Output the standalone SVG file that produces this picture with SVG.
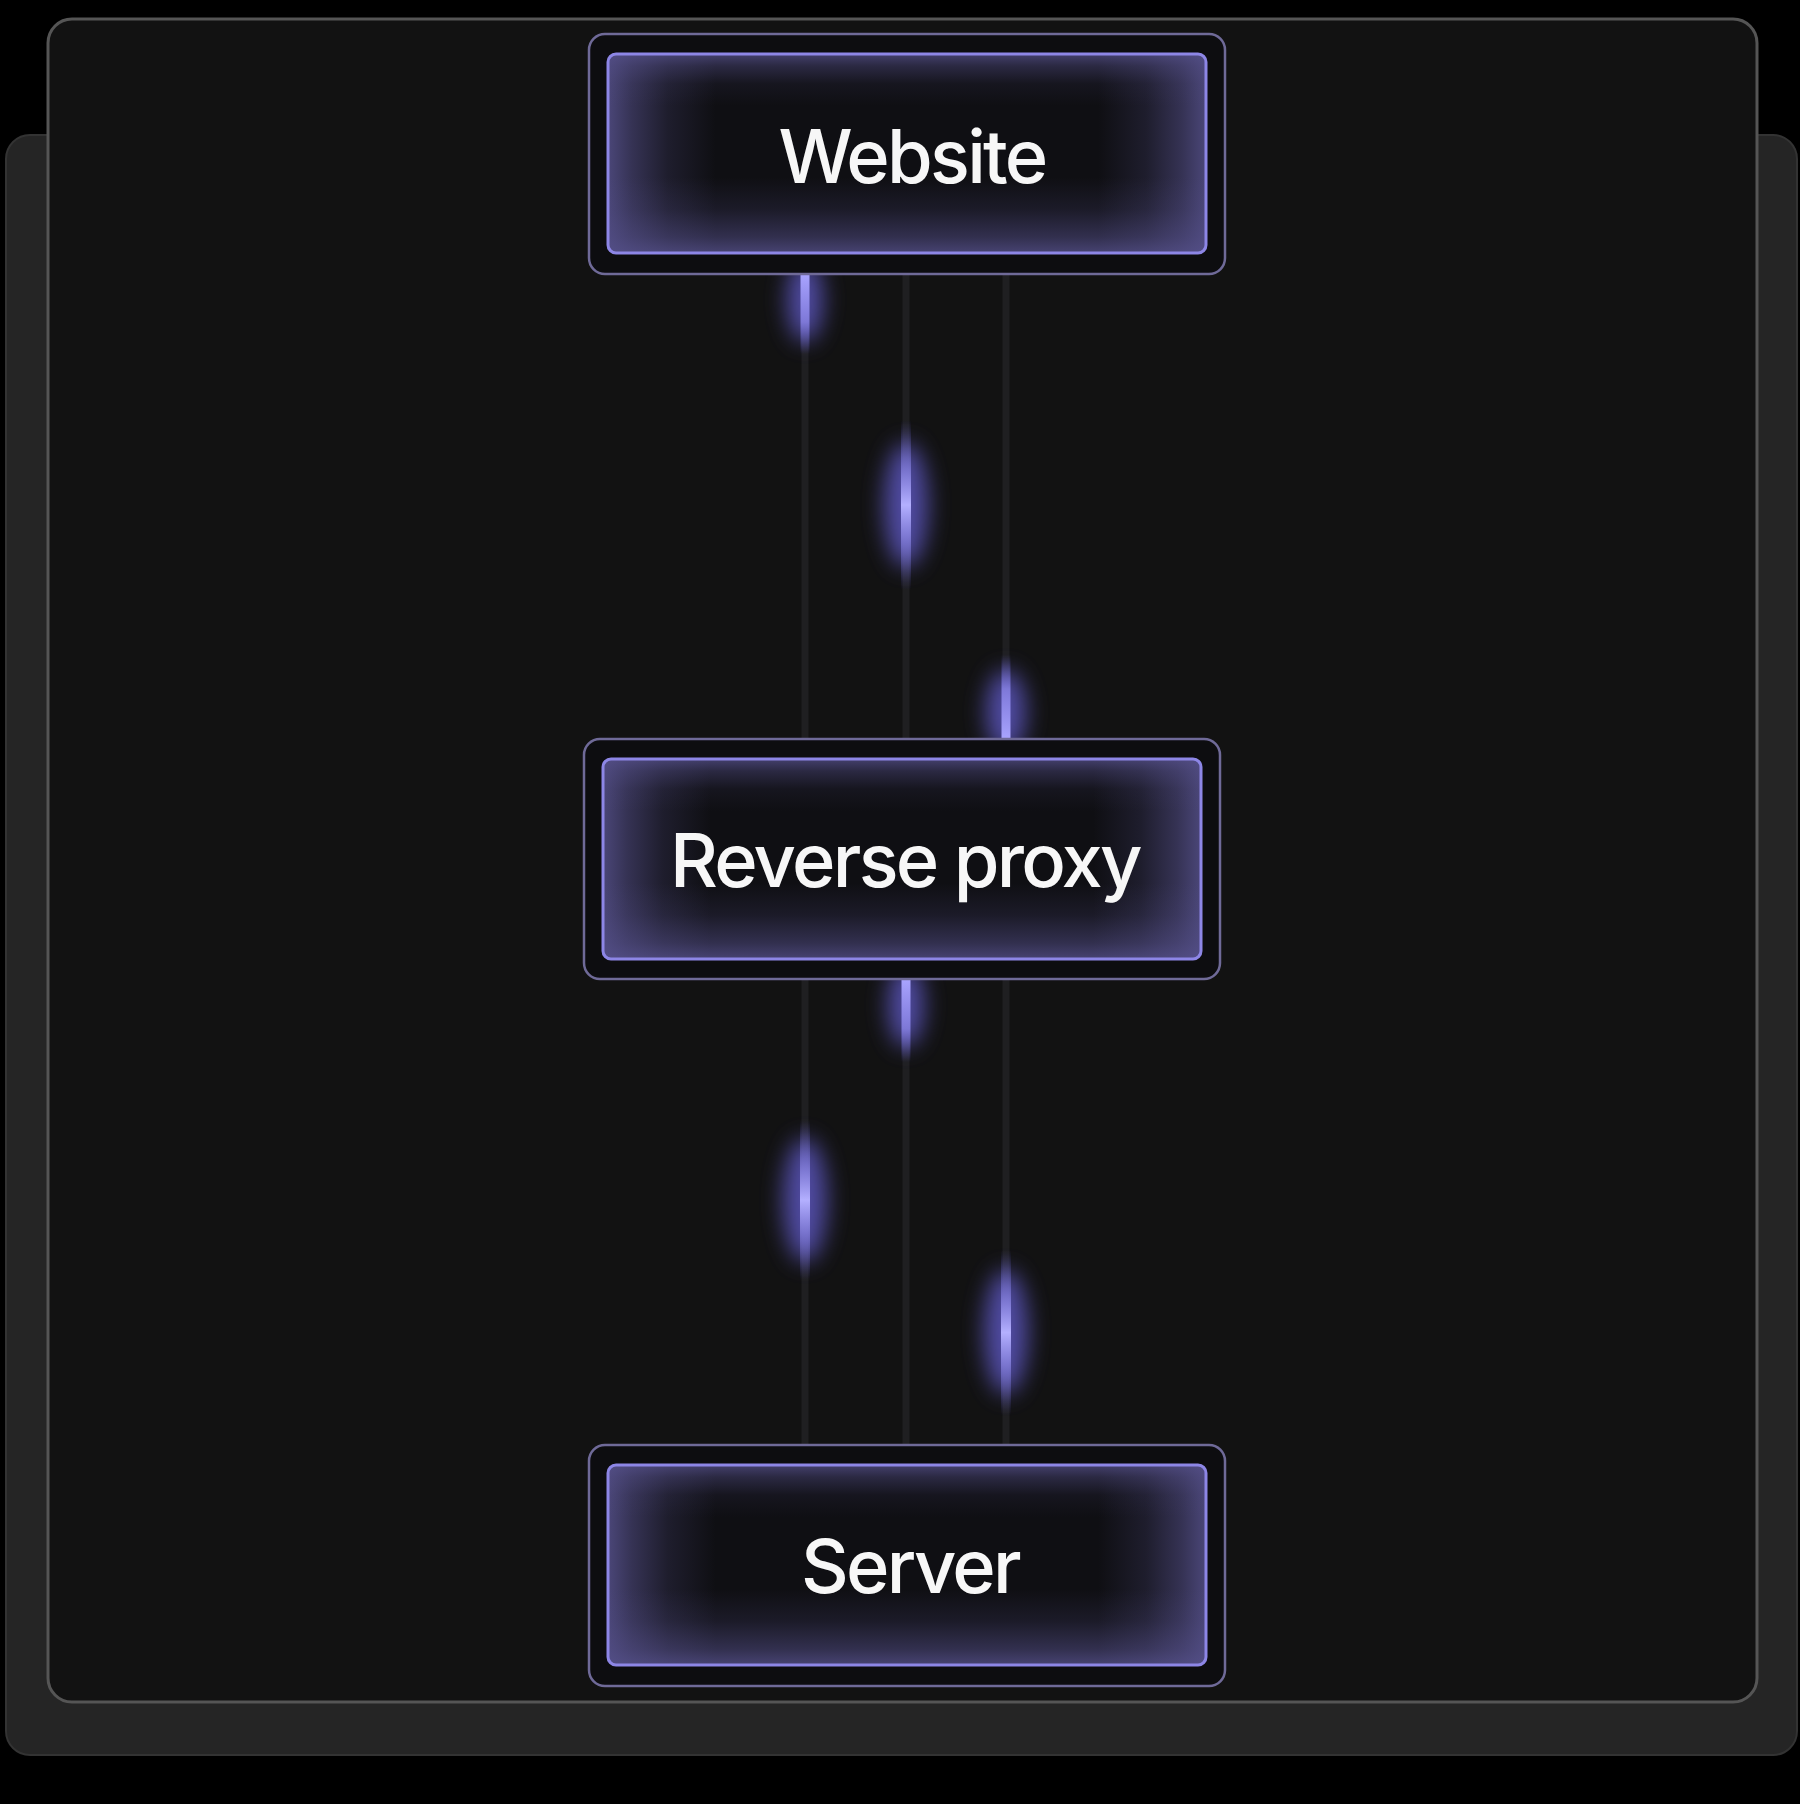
<svg xmlns="http://www.w3.org/2000/svg" width="1800" height="1804" viewBox="0 0 1800 1804">
  <style>
    .line { fill: #1f1f21; }
    .outer { fill: #0d0d10; stroke: #6f6a98; stroke-width: 2.5; }
    .innerFill { fill: #0f0f13; }
    .glowH { fill: url(#gh); }
    .glowV { fill: url(#gv); }
    .innerStroke { fill: none; stroke: #8d86e6; stroke-width: 3; }
    .label { font-family: Inter, "Liberation Sans", sans-serif; font-weight: 550; font-size: 74px; fill: #f7f7f7; text-anchor: middle; letter-spacing: -2.7px; }
    .glow { fill: #6b64e0; opacity: 0.7; filter: url(#blur); }
  </style>
  <defs>
    <linearGradient id="gh" x1="0" y1="0" x2="1" y2="0">
      <stop offset="0" stop-color="#55508a" stop-opacity="0.85"/>
      <stop offset="0.04" stop-color="#55508a" stop-opacity="0.55"/>
      <stop offset="0.1" stop-color="#55508a" stop-opacity="0.22"/>
      <stop offset="0.18" stop-color="#55508a" stop-opacity="0"/>
      <stop offset="0.82" stop-color="#55508a" stop-opacity="0"/>
      <stop offset="0.9" stop-color="#55508a" stop-opacity="0.22"/>
      <stop offset="0.96" stop-color="#55508a" stop-opacity="0.55"/>
      <stop offset="1" stop-color="#55508a" stop-opacity="0.85"/>
    </linearGradient>
    <linearGradient id="gv" x1="0" y1="0" x2="0" y2="1">
      <stop offset="0" stop-color="#55508a" stop-opacity="0.75"/>
      <stop offset="0.06" stop-color="#55508a" stop-opacity="0.4"/>
      <stop offset="0.15" stop-color="#55508a" stop-opacity="0.1"/>
      <stop offset="0.26" stop-color="#55508a" stop-opacity="0"/>
      <stop offset="0.62" stop-color="#55508a" stop-opacity="0"/>
      <stop offset="0.78" stop-color="#55508a" stop-opacity="0.18"/>
      <stop offset="0.92" stop-color="#55508a" stop-opacity="0.5"/>
      <stop offset="1" stop-color="#55508a" stop-opacity="0.8"/>
    </linearGradient>
    <linearGradient id="pDown" x1="0" y1="0" x2="0" y2="1">
      <stop offset="0" stop-color="#aaa5ff" stop-opacity="1"/>
      <stop offset="0.6" stop-color="#8b85ea" stop-opacity="0.8"/>
      <stop offset="1" stop-color="#6b64e0" stop-opacity="0"/>
    </linearGradient>
    <linearGradient id="pUp" x1="0" y1="1" x2="0" y2="0">
      <stop offset="0" stop-color="#aaa5ff" stop-opacity="1"/>
      <stop offset="0.6" stop-color="#8b85ea" stop-opacity="0.8"/>
      <stop offset="1" stop-color="#6b64e0" stop-opacity="0"/>
    </linearGradient>
    <linearGradient id="pMid" x1="0" y1="0" x2="0" y2="1">
      <stop offset="0" stop-color="#6b64e0" stop-opacity="0"/>
      <stop offset="0.5" stop-color="#b4b0ff" stop-opacity="1"/>
      <stop offset="1" stop-color="#6b64e0" stop-opacity="0"/>
    </linearGradient>
    <filter id="blur" x="-200%" y="-100%" width="500%" height="300%">
      <feGaussianBlur stdDeviation="11"/>
    </filter>
  </defs>

  <rect x="0" y="0" width="1800" height="1804" fill="#000"/>
  <rect x="6" y="135" width="1791" height="1620" rx="24" fill="#252525" stroke="#333" stroke-width="2"/>
  <rect x="48" y="19" width="1709" height="1683" rx="24" fill="#121212" stroke="#555" stroke-width="3"/>

  <g id="connectors">
    <rect class="line" x="801.5" y="274" width="7" height="466"/>
    <rect class="line" x="902.5" y="274" width="7" height="466"/>
    <rect class="line" x="1002.5" y="274" width="7" height="466"/>
    <rect class="line" x="801.5" y="979" width="7" height="466"/>
    <rect class="line" x="902.5" y="979" width="7" height="466"/>
    <rect class="line" x="1002.5" y="979" width="7" height="466"/>

    <ellipse class="glow" cx="805" cy="300" rx="18" ry="42"/>
    <rect x="800.5" y="274" width="9" height="80" fill="url(#pDown)"/>

    <ellipse class="glow" cx="906" cy="505" rx="22" ry="62"/>
    <rect x="901" y="420" width="10" height="170" fill="url(#pMid)"/>

    <ellipse class="glow" cx="1006" cy="712" rx="20" ry="42"/>
    <rect x="1001.5" y="655" width="9" height="85" fill="url(#pUp)"/>

    <ellipse class="glow" cx="906" cy="1005" rx="18" ry="42"/>
    <rect x="901.5" y="979" width="9" height="83" fill="url(#pDown)"/>

    <ellipse class="glow" cx="805" cy="1200" rx="22" ry="62"/>
    <rect x="800" y="1120" width="10" height="160" fill="url(#pMid)"/>

    <ellipse class="glow" cx="1006" cy="1332" rx="22" ry="62"/>
    <rect x="1001" y="1250" width="10" height="165" fill="url(#pMid)"/>
  </g>

  <g id="node-website">
    <rect class="outer" x="589" y="34" width="636" height="240" rx="16"/>
    <rect class="innerFill" x="608" y="54" width="598" height="199" rx="8"/>
    <rect class="glowH" x="608" y="54" width="598" height="199" rx="8"/>
    <rect class="glowV" x="608" y="54" width="598" height="199" rx="8"/>
    <rect class="innerStroke" x="608" y="54" width="598" height="199" rx="8"/>
    <text class="label" x="912" y="183">Website</text>
  </g>

  <g id="node-reverse-proxy">
    <rect class="outer" x="584" y="739" width="636" height="240" rx="16"/>
    <rect class="innerFill" x="603" y="759" width="598" height="200" rx="8"/>
    <rect class="glowH" x="603" y="759" width="598" height="200" rx="8"/>
    <rect class="glowV" x="603" y="759" width="598" height="200" rx="8"/>
    <rect class="innerStroke" x="603" y="759" width="598" height="200" rx="8"/>
    <text class="label" x="905" y="887">Reverse proxy</text>
  </g>

  <g id="node-server">
    <rect class="outer" x="589" y="1445" width="636" height="241" rx="16"/>
    <rect class="innerFill" x="608" y="1465" width="598" height="200" rx="8"/>
    <rect class="glowH" x="608" y="1465" width="598" height="200" rx="8"/>
    <rect class="glowV" x="608" y="1465" width="598" height="200" rx="8"/>
    <rect class="innerStroke" x="608" y="1465" width="598" height="200" rx="8"/>
    <text class="label" x="910" y="1593">Server</text>
  </g>
</svg>
